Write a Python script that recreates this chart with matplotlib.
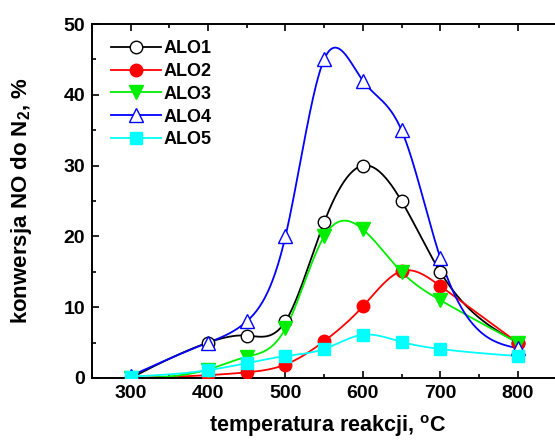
import numpy as np
import matplotlib
matplotlib.use("Agg")
import matplotlib.pyplot as plt
from matplotlib.ticker import MultipleLocator

plt.rcParams['font.family'] = ['Liberation Sans', 'DejaVu Sans']
plt.rcParams['font.weight'] = 'bold'

temps = [300, 400, 450, 500, 550, 600, 650, 700, 800]
alo1 = [0, 5, 6, 8, 22, 30, 25, 15, 5]
alo2 = [0, 0.4, 0.8, 1.9, 5.2, 10.1, 15.1, 13, 5]
alo3 = [0, 1.2, 3, 7, 20, 21, 15, 11, 5]
alo4 = [0.3, 5, 8, 20, 45, 42, 35, 17, 4.2]
alo5 = [0.2, 1.1, 2.1, 3.1, 4.1, 6.1, 5.1, 4.1, 3.1]
labels = ['ALO1', 'ALO2', 'ALO3', 'ALO4', 'ALO5']


def natural_spline(x, y, n=400):
    x = np.asarray(x, float); y = np.asarray(y, float)
    k = len(x)
    h = np.diff(x)
    A = np.zeros((k, k)); r = np.zeros(k)
    A[0, 0] = 1; A[-1, -1] = 1
    for i in range(1, k - 1):
        A[i, i - 1] = h[i - 1]
        A[i, i] = 2 * (h[i - 1] + h[i])
        A[i, i + 1] = h[i]
        r[i] = 6 * ((y[i + 1] - y[i]) / h[i] - (y[i] - y[i - 1]) / h[i - 1])
    M = np.linalg.solve(A, r)
    xs = np.linspace(x[0], x[-1], n)
    idx = np.clip(np.searchsorted(x, xs) - 1, 0, k - 2)
    x0 = x[idx]; x1 = x[idx + 1]; hh = x1 - x0
    a = (x1 - xs) / hh; b = (xs - x0) / hh
    ys = a * y[idx] + b * y[idx + 1] + ((a**3 - a) * M[idx] + (b**3 - b) * M[idx + 1]) * hh**2 / 6
    return xs, ys


fig = plt.figure(figsize=(5.55, 4.44), dpi=100)
# axes spans 250..860 on x; right spine falls just outside the image as in the reference
ax = fig.add_axes([92/555, 1 - 378/444, (564 - 92)/555, (378 - 24)/444])

styles = [
    dict(color='black', marker='o', mfc='white', mec='black', ms=9),
    dict(color='red', marker='o', mfc='red', mec='red', ms=9),
    dict(color='#00ee00', marker='v', mfc='#00ee00', mec='#00ee00', ms=10),
    dict(color='blue', marker='^', mfc='white', mec='blue', ms=10),
    dict(color='cyan', marker='s', mfc='cyan', mec='cyan', ms=8),
]
series = [alo1, alo2, alo3, alo4, alo5]

for ys, st, lab in zip(series, styles, labels):
    xs_s, ys_s = natural_spline(temps, ys)
    ax.plot(xs_s, ys_s, color=st['color'], lw=1.3, zorder=2)
    ax.plot(temps, ys, ls='none', marker=st['marker'], mfc=st['mfc'], mec=st['mec'],
            ms=st['ms'], mew=1.0, zorder=3)
    ax.plot([], [], color=st['color'], lw=1.3, marker=st['marker'], mfc=st['mfc'],
            mec=st['mec'], ms=st['ms'], mew=1.0, label=lab)

ax.set_xlim(250, 860)
ax.set_ylim(0, 50)
ax.xaxis.set_major_locator(MultipleLocator(100))
ax.xaxis.set_minor_locator(MultipleLocator(50))
ax.yaxis.set_major_locator(MultipleLocator(10))
ax.yaxis.set_minor_locator(MultipleLocator(5))
ax.tick_params(which='both', direction='in', top=True, right=True, width=1.2)
ax.tick_params(which='major', length=5, labelsize=14, pad=5)
ax.tick_params(which='minor', length=3)
for lbl in ax.get_xticklabels() + ax.get_yticklabels():
    lbl.set_fontweight('bold')
for s in ax.spines.values():
    s.set_linewidth(1.4)

ax.set_xlabel('temperatura reakcji, $\\mathregular{^{o}}$C', fontsize=15.5, fontweight='bold', labelpad=8)
ax.set_ylabel('konwersja NO do N$\\mathregular{_2}$, %', fontsize=16, fontweight='bold', labelpad=21)

leg = ax.legend(loc='upper left', bbox_to_anchor=(0.005, 1.0), frameon=False,
                prop={'size': 13, 'weight': 'bold'}, handlelength=2.8,
                labelspacing=0.32, handletextpad=0.15)

fig.savefig('out.png', dpi=100)
